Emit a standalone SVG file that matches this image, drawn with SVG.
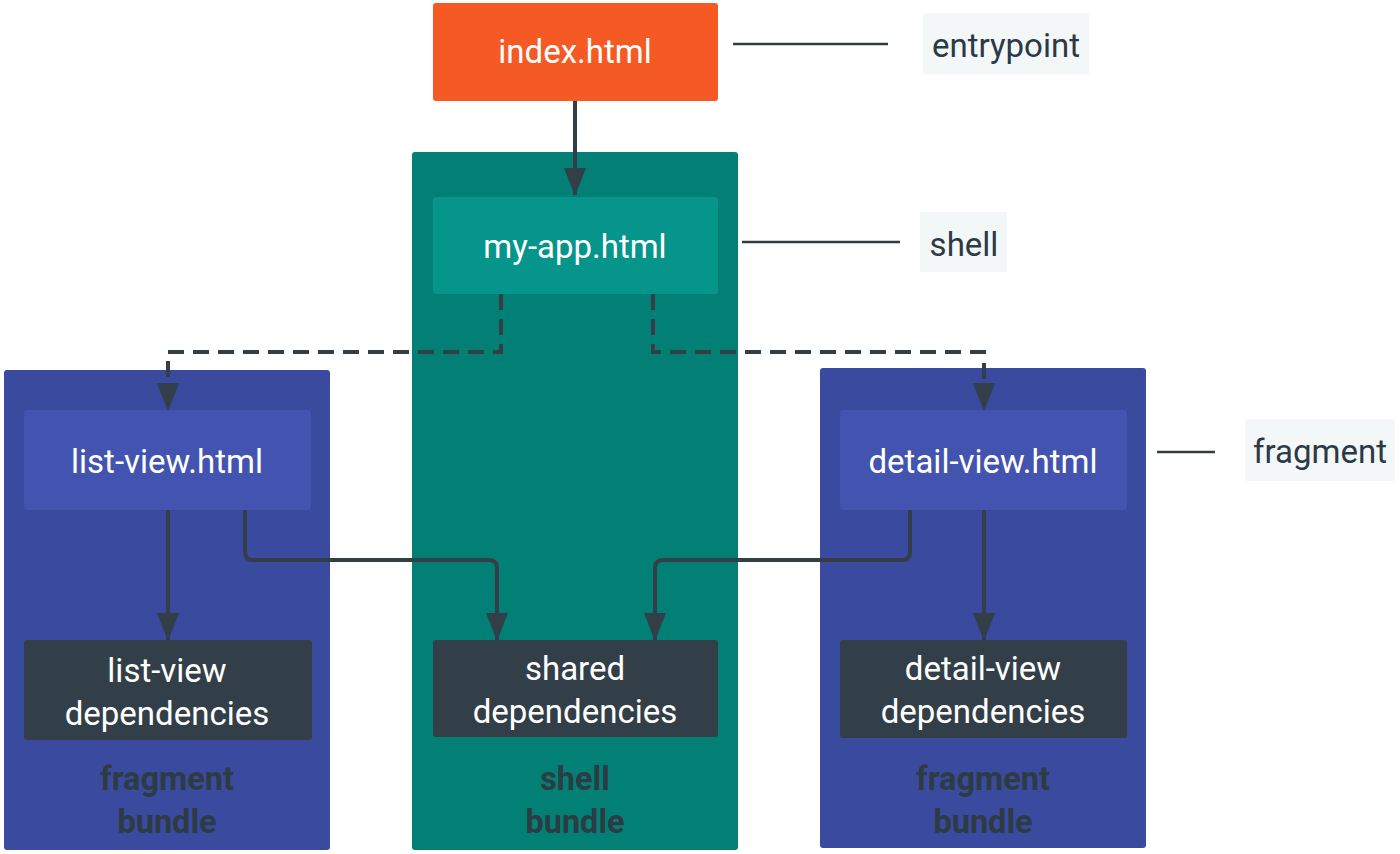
<svg xmlns="http://www.w3.org/2000/svg" width="1400" height="854" viewBox="0 0 1400 854">
<defs>
<marker id="ah" markerWidth="28" markerHeight="22" refX="27" refY="11" orient="auto" markerUnits="userSpaceOnUse" viewBox="0 0 28 22">
<path d="M0,0 L28,11 L0,22 Z" fill="#333F48"/>
</marker>
<style>
.t{font-family:Roboto,"Liberation Sans",sans-serif;font-size:33px;fill:#ffffff;text-anchor:middle}
.lb{font-family:Roboto,"Liberation Sans",sans-serif;font-size:33px;fill:#2C3A47;text-anchor:middle}
.bl{font-family:Roboto,"Liberation Sans",sans-serif;font-size:32.5px;font-weight:bold;fill:#2D3B43;text-anchor:middle}
.bundleF{fill:#3A4A9F}
.bundleS{fill:#038075}
.fileF{fill:#4354B0}
.dep{fill:#333F48}
.conn{fill:none;stroke:#333F48;stroke-width:4}
.dash{stroke-dasharray:16 9}
.lbl{fill:#F4F7F8}
.lline{stroke:#2F3D44;stroke-width:2.5}
</style>
</defs>

<g id="shell-bundle">
<rect x="412" y="152" width="326" height="698" rx="3" class="bundleS"/>
<text class="bl" x="575" y="790">shell</text>
<text class="bl" x="575" y="833">bundle</text>
</g>
<g id="list-bundle">
<rect x="4" y="370" width="326" height="480" rx="3" class="bundleF"/>
<text class="bl" x="167" y="790">fragment</text>
<text class="bl" x="167" y="833">bundle</text>
</g>
<g id="detail-bundle">
<rect x="820" y="368" width="326" height="480" rx="3" class="bundleF"/>
<text class="bl" x="983" y="790">fragment</text>
<text class="bl" x="983" y="833">bundle</text>
</g>

<g id="index">
<rect x="433" y="3" width="285" height="98" rx="3" fill="#F55A24"/>
<text class="t" x="575" y="63">index.html</text>
</g>
<g id="my-app">
<rect x="433" y="197" width="285" height="97" rx="3" fill="#05958A"/>
<text class="t" x="575" y="258">my-app.html</text>
</g>
<g id="list-view">
<rect x="24" y="410" width="287" height="100" rx="3" class="fileF"/>
<text class="t" x="167" y="473">list-view.html</text>
</g>
<g id="detail-view">
<rect x="840" y="410" width="287" height="100" rx="3" class="fileF"/>
<text class="t" x="983" y="473">detail-view.html</text>
</g>
<g id="list-deps">
<rect x="24" y="640" width="288" height="100" rx="3" class="dep"/>
<text class="t" x="167" y="682">list-view</text>
<text class="t" x="167" y="725">dependencies</text>
</g>
<g id="shared-deps">
<rect x="433" y="640" width="285" height="97" rx="3" class="dep"/>
<text class="t" x="575" y="680">shared</text>
<text class="t" x="575" y="723">dependencies</text>
</g>
<g id="detail-deps">
<rect x="840" y="640" width="287" height="98" rx="3" class="dep"/>
<text class="t" x="983" y="680">detail-view</text>
<text class="t" x="983" y="723">dependencies</text>
</g>

<g id="label-entrypoint">
<rect x="923" y="13" width="166" height="61" class="lbl"/>
<text class="lb" x="1006" y="57">entrypoint</text>
</g>
<g id="label-shell">
<rect x="920" y="212" width="87" height="60" class="lbl"/>
<text class="lb" x="964" y="256">shell</text>
</g>
<g id="label-fragment">
<rect x="1245" y="419" width="150" height="62" class="lbl"/>
<text class="lb" x="1320" y="463">fragment</text>
</g>

<g id="connectors">
<line class="lline" x1="733" y1="44" x2="888" y2="44"/>
<line class="lline" x1="742" y1="242" x2="900" y2="242"/>
<line class="lline" x1="1157" y1="452" x2="1215" y2="452"/>
<path class="conn" d="M575,101 V195" marker-end="url(#ah)"/>
<path class="conn dash" d="M501,294 V352 H168 V410" marker-end="url(#ah)"/>
<path class="conn dash" d="M653,294 V352 H984 V410" marker-end="url(#ah)"/>
<path class="conn" d="M168,510 V640" marker-end="url(#ah)"/>
<path class="conn" d="M245,510 V552 Q245,560 253,560 H489 Q497,560 497,568 V640" marker-end="url(#ah)"/>
<path class="conn" d="M910,510 V552 Q910,560 902,560 H663 Q655,560 655,568 V640" marker-end="url(#ah)"/>
<path class="conn" d="M984,510 V640" marker-end="url(#ah)"/>
</g>
</svg>
